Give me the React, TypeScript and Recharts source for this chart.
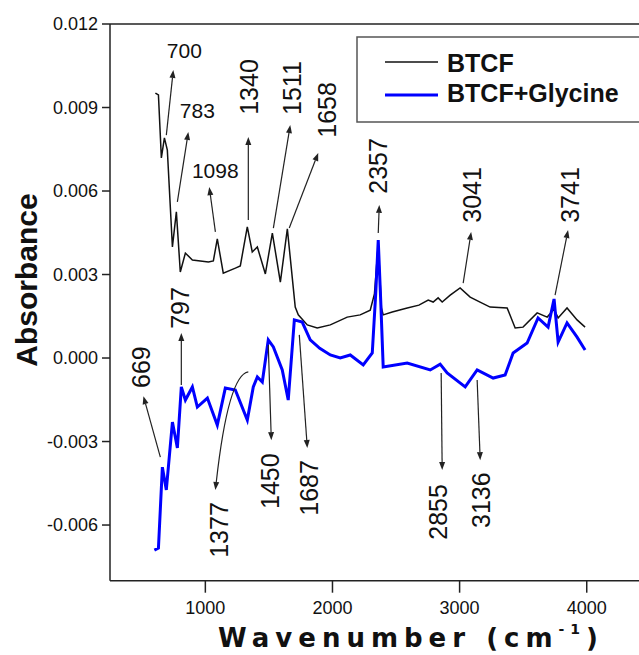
import React from 'react';
import { LineChart, Line, XAxis, YAxis, ReferenceLine } from 'recharts';

// BTCF spectrum (wavenumber, absorbance)
const btcfWave = [607, 631, 654, 678, 701, 741, 772, 803, 843, 898, 1024, 1063, 1094, 1141, 1236, 1275, 1330, 1369, 1409, 1472, 1527, 1590, 1645, 1707, 1731, 1802, 1880, 1983, 2116, 2218, 2297, 2330, 2360, 2385, 2399, 2470, 2588, 2680, 2753, 2792, 2831, 2863, 2926, 3004, 3083, 3161, 3240, 3374, 3437, 3499, 3610, 3689, 3743, 3775, 3845, 3924, 3987];
const btcfAbs = [0.00952, 0.00945, 0.00719, 0.00791, 0.00747, 0.00399, 0.00525, 0.00309, 0.00377, 0.00352, 0.00345, 0.00349, 0.00428, 0.00305, 0.00323, 0.00331, 0.00471, 0.00381, 0.00399, 0.00302, 0.00449, 0.00273, 0.00464, 0.00183, 0.00155, 0.00119, 0.00108, 0.00119, 0.00147, 0.00155, 0.00172, 0.0023, 0.0041, 0.0018, 0.00155, 0.00165, 0.0018, 0.0019, 0.00208, 0.00201, 0.00216, 0.00201, 0.00226, 0.00252, 0.00219, 0.00201, 0.00183, 0.0018, 0.00108, 0.00111, 0.00162, 0.00147, 0.00175, 0.00144, 0.0018, 0.00137, 0.00111];

// BTCF+Glycine spectrum
const glyWave = [599, 631, 662, 693, 741, 780, 811, 843, 898, 937, 1016, 1094, 1157, 1236, 1330, 1377, 1409, 1448, 1495, 1535, 1605, 1652, 1700, 1762, 1825, 1900, 1983, 2061, 2140, 2242, 2313, 2340, 2360, 2380, 2399, 2588, 2769, 2847, 2902, 3044, 3138, 3264, 3358, 3421, 3531, 3617, 3696, 3743, 3775, 3845, 3924, 3987];
const glyAbs = [-0.0069, -0.00683, -0.00392, -0.00474, -0.0023, -0.00323, -0.00104, -0.00151, -0.00104, -0.00176, -0.00144, -0.00241, -0.00108, -0.00115, -0.00223, -0.00104, -0.00068, -0.00086, 0.00065, 0.0004, -0.00043, -0.00151, 0.00137, 0.00129, 0.00065, 0.00035, 0.00011, 0.0, 0.00011, -0.00025, 0.00018, 0.0023, 0.00424, 0.002, -0.00032, -0.00018, -0.00043, -0.00022, -0.00054, -0.00104, -0.00043, -0.00072, -0.00061, 0.00018, 0.00054, 0.00144, 0.00111, 0.00212, 0.00057, 0.00126, 0.00075, 0.00029];

const xTicks = [1000, 2000, 3000, 4000];
const yTicks = [-0.006, -0.003, 0, 0.003, 0.006, 0.009, 0.012];
const seriesNames = ['BTCF', 'BTCF+Glycine'];

// peak annotations: label, arrow tail and head in data units
const peakLabels = ['700', '783', '1098', '1340', '1511', '1658', '2357', '3041', '3741', '669', '797', '1377', '1450', '1687', '2855', '3136'];
const peakTail = [[693, 0.00801], [780, 0.00561], [1079, 0.00453], [1338, 0.00496], [1535, 0.00467], [1660, 0.00467], [2360, 0.00449], [3028, 0.00269], [3751, 0.00226], [646, -0.00356], [811, -0.00097], [1338, -0.0005], [1495, 0.00047], [1739, 0.00083], [2855, -0.00054], [3138, -0.00079]];
const peakHead = [[748, 0.01035], [866, 0.00812], [1031, 0.00614], [1338, 0.00794], [1668, 0.00837], [1888, 0.00737], [2368, 0.0055], [3091, 0.00453], [3853, 0.0046], [513, -0.00137], [811, 0.0009], [1079, -0.00474], [1519, -0.00295], [1802, -0.00323], [2863, -0.00402], [3162, -0.00367]];

const labelOffset = [[11, -19], [9, -21], [6, -17], [1, -50], [2, -37], [9, -43], [-1, -39], [1, -37], [2, -35], [-2, -29], [-1, -25], [4, 40], [-1, 41], [2, 40], [-4, 42], [1, 40]];
const horizontalLabel = [true, true, true];

const btcf = btcfWave.map((w, i) => ({ wn: w, abs: btcfAbs[i] }));
const glycine = glyWave.map((w, i) => ({ wn: w, abs: glyAbs[i] }));

const FONT = '"Liberation Sans", Arial, sans-serif';

function arrowShape(i: number) {
  return (p: any) => {
    const { x1, y1, x2, y2 } = p;
    const curved = peakLabels[i] === '1377';
    const cx = x1 - 20;
    const cy = y1 + 3;
    const fromX = curved ? cx : x1;
    const fromY = curved ? cy : y1;
    const ang = Math.atan2(y2 - fromY, x2 - fromX);
    const len = 8;
    const w = 3;
    const bx = x2 - len * Math.cos(ang);
    const by = y2 - len * Math.sin(ang);
    const pts = `${x2},${y2} ${bx - w * Math.sin(ang)},${by + w * Math.cos(ang)} ${bx + w * Math.sin(ang)},${by - w * Math.cos(ang)}`;
    const tx = x2 + labelOffset[i][0];
    const ty = y2 + labelOffset[i][1];
    const horiz = horizontalLabel[i] === true;
    return (
      <g>
        {curved ? (
          <path d={`M${x1},${y1} Q${cx},${cy} ${bx},${by}`} fill="none" stroke="#222" strokeWidth={1.2} />
        ) : (
          <line x1={x1} y1={y1} x2={bx} y2={by} stroke="#222" strokeWidth={1.2} />
        )}
        <polygon points={pts} fill="#222" />
        <text
          x={tx}
          y={ty}
          textAnchor="middle"
          dominantBaseline="central"
          fontFamily={FONT}
          fontSize={horiz ? 21 : 25}
          fill="#111"
          transform={horiz ? undefined : `rotate(-90 ${tx} ${ty})`}
        >
          {peakLabels[i]}
        </text>
      </g>
    );
  };
}

export default function App() {
  return (
    <div style={{ position: 'absolute', left: 8, top: 8, width: 631, height: 647, overflow: 'hidden', background: '#fff' }}>
      <LineChart width={660} height={647} margin={{ top: 16, right: 17.7, bottom: 44.3, left: 42 }}>
        <XAxis
          dataKey="wn"
          type="number"
          domain={[250, 4500]}
          ticks={xTicks}
          allowDataOverflow
          tickSize={12}
          tickMargin={9}
          stroke="#222"
          strokeWidth={1.5}
          tick={{ fill: '#111', fontSize: 18, fontFamily: FONT }}
        />
        <YAxis
          type="number"
          domain={[-0.008, 0.012]}
          ticks={yTicks}
          allowDataOverflow
          width={60}
          tickSize={8}
          tickMargin={4}
          stroke="#222"
          strokeWidth={1.5}
          tickFormatter={(v: number) => v.toFixed(3)}
          tick={{ fill: '#111', fontSize: 18, fontFamily: FONT }}
        />
        <ReferenceLine y={0.012} stroke="#222" strokeWidth={1.5} />
        <Line
          data={btcf}
          dataKey="abs"
          name={seriesNames[0]}
          type="linear"
          stroke="#111"
          strokeWidth={1.5}
          dot={false}
          isAnimationActive={false}
        />
        <Line
          data={glycine}
          dataKey="abs"
          name={seriesNames[1]}
          type="linear"
          stroke="#0000ff"
          strokeWidth={3}
          dot={false}
          isAnimationActive={false}
        />
        {peakLabels.map((lab, i) => (
          <ReferenceLine
            key={lab}
            ifOverflow="visible"
            segment={[
              { x: peakTail[i][0], y: peakTail[i][1] },
              { x: peakHead[i][0], y: peakHead[i][1] },
            ]}
            shape={arrowShape(i)}
          />
        ))}
        <g>
          <rect x={349} y={29} width={320} height={85} fill="#fff" stroke="#555" strokeWidth={1.5} />
          <line x1={377} y1={54} x2={430} y2={54} stroke="#111" strokeWidth={1.5} />
          <text x={439} y={64} fontFamily={FONT} fontWeight="bold" fontSize={25} fill="#111">
            {seriesNames[0]}
          </text>
          <line x1={377} y1={87} x2={430} y2={87} stroke="#0000ff" strokeWidth={3} />
          <text x={439} y={94} fontFamily={FONT} fontWeight="bold" fontSize={25} fill="#111">
            {seriesNames[1]}
          </text>
        </g>
        <text
          x={18}
          y={272}
          textAnchor="middle"
          dominantBaseline="central"
          fontFamily={FONT}
          fontWeight="bold"
          fontSize={30}
          fill="#111"
          transform="rotate(-90 18 272)"
        >
          Absorbance
        </text>
        <text
          x={403}
          y={639}
          textAnchor="middle"
          fontFamily='"DejaVu Sans", sans-serif'
          fontWeight="bold"
          fontSize={26}
          letterSpacing={6}
          fill="#111"
        >
          Wavenumber (cm
          <tspan fontSize={14} dy={-13}>-1</tspan>
          <tspan dy={13}>)</tspan>
        </text>
      </LineChart>
    </div>
  );
}
